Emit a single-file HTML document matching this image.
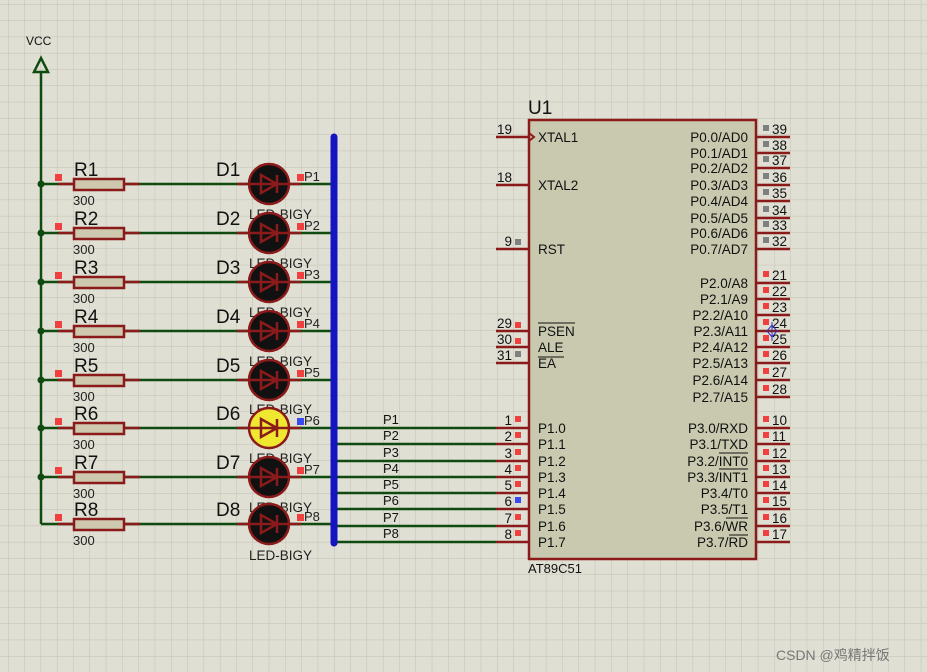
<!DOCTYPE html>
<html><head><meta charset="utf-8"><style>
html,body{margin:0;padding:0;background:#dfdfd3;}
svg{display:block;font-family:"Liberation Sans",Arial,sans-serif;}
</style></head><body>
<svg width="927" height="672" viewBox="0 0 927 672" xmlns="http://www.w3.org/2000/svg">
<defs>
<pattern id="g" width="16.3" height="16.3" patternUnits="userSpaceOnUse" x="8" y="4">
<path d="M0 0H16.3M0 0V16.3" stroke="#c2c2b3" stroke-width="1" fill="none"/>
</pattern>
</defs>
<rect width="927" height="672" fill="#dfdfd3"/>
<rect width="927" height="672" fill="url(#g)"/>

<!-- VCC -->
<text x="26" y="45" font-size="12" fill="#111">VCC</text>
<path d="M41 58 L34 72 H48 Z" fill="none" stroke="#0f4a0f" stroke-width="2.5"/>
<line x1="41" y1="72" x2="41" y2="524" stroke="#0f4a0f" stroke-width="2.5"/>

<g stroke-width="2.5">
<g stroke="#0f4a0f">
<line x1="41" y1="184" x2="334" y2="184"/><line x1="41" y1="233" x2="334" y2="233"/>
<line x1="41" y1="282" x2="334" y2="282"/><line x1="41" y1="331" x2="334" y2="331"/>
<line x1="41" y1="380" x2="334" y2="380"/><line x1="41" y1="428" x2="334" y2="428"/>
<line x1="41" y1="477" x2="334" y2="477"/><line x1="41" y1="524" x2="334" y2="524"/>
</g>
<g stroke="#8b1a1a">
<path d="M58 184H140M237 184H301M58 233H140M237 233H301M58 282H140M237 282H301M58 331H140M237 331H301M58 380H140M237 380H301M58 428H140M237 428H301M58 477H140M237 477H301M58 524H140M237 524H301"/>
</g>
</g>
<g fill="#0f4a0f">
<circle cx="41" cy="184" r="3.5"/><circle cx="41" cy="233" r="3.5"/><circle cx="41" cy="282" r="3.5"/><circle cx="41" cy="331" r="3.5"/><circle cx="41" cy="380" r="3.5"/><circle cx="41" cy="428" r="3.5"/><circle cx="41" cy="477" r="3.5"/>
</g>
<g fill="#cdc8ae" stroke="#8b1a1a" stroke-width="2.5">
<rect x="74" y="179" width="50" height="11"/><rect x="74" y="228" width="50" height="11"/>
<rect x="74" y="277" width="50" height="11"/><rect x="74" y="326" width="50" height="11"/>
<rect x="74" y="375" width="50" height="11"/><rect x="74" y="423" width="50" height="11"/>
<rect x="74" y="472" width="50" height="11"/><rect x="74" y="519" width="50" height="11"/>
</g>
<g fill="#f04040">
<rect x="55" y="174" width="7" height="7"/><rect x="55" y="223" width="7" height="7"/><rect x="55" y="272" width="7" height="7"/><rect x="55" y="321" width="7" height="7"/><rect x="55" y="370" width="7" height="7"/><rect x="55" y="418" width="7" height="7"/><rect x="55" y="467" width="7" height="7"/><rect x="55" y="514" width="7" height="7"/>
<rect x="297" y="174" width="7" height="7"/><rect x="297" y="223" width="7" height="7"/><rect x="297" y="272" width="7" height="7"/><rect x="297" y="321" width="7" height="7"/><rect x="297" y="370" width="7" height="7"/><rect x="297" y="467" width="7" height="7"/><rect x="297" y="514" width="7" height="7"/>
</g>
<rect x="297" y="418" width="7" height="7" fill="#3a4af0"/>
<g font-size="19" fill="#111">
<text x="74" y="176">R1</text><text x="74" y="225">R2</text><text x="74" y="274">R3</text><text x="74" y="323">R4</text><text x="74" y="372">R5</text><text x="74" y="420">R6</text><text x="74" y="469">R7</text><text x="74" y="516">R8</text>
<text x="216" y="176">D1</text><text x="216" y="225">D2</text><text x="216" y="274">D3</text><text x="216" y="323">D4</text><text x="216" y="372">D5</text><text x="216" y="420">D6</text><text x="216" y="469">D7</text><text x="216" y="516">D8</text>
</g>
<g font-size="13" fill="#222">
<text x="73" y="205">300</text><text x="73" y="254">300</text><text x="73" y="303">300</text><text x="73" y="352">300</text><text x="73" y="401">300</text><text x="73" y="449">300</text><text x="73" y="498">300</text><text x="73" y="545">300</text>
<text x="249" y="219" font-size="13.5">LED-BIGY</text><text x="249" y="268" font-size="13.5">LED-BIGY</text><text x="249" y="317" font-size="13.5">LED-BIGY</text><text x="249" y="366" font-size="13.5">LED-BIGY</text><text x="249" y="414" font-size="13.5">LED-BIGY</text><text x="249" y="463" font-size="13.5">LED-BIGY</text><text x="249" y="512" font-size="13.5">LED-BIGY</text><text x="249" y="560" font-size="13.5">LED-BIGY</text>
<text x="304" y="181">P1</text><text x="304" y="230">P2</text><text x="304" y="279">P3</text><text x="304" y="328">P4</text><text x="304" y="377">P5</text><text x="304" y="425">P6</text><text x="304" y="474">P7</text><text x="304" y="521">P8</text>
</g>
<g stroke="#8b1a1a" stroke-width="2.5">
<circle cx="269" cy="184" r="20" fill="#111"/><circle cx="269" cy="233" r="20" fill="#111"/><circle cx="269" cy="282" r="20" fill="#111"/><circle cx="269" cy="331" r="20" fill="#111"/><circle cx="269" cy="380" r="20" fill="#111"/><circle cx="269" cy="428" r="20" fill="#f0e830"/><circle cx="269" cy="477" r="20" fill="#111"/><circle cx="269" cy="524" r="20" fill="#111"/>
</g>
<g stroke="#8b1a1a" stroke-width="2.5" fill="none">
<path d="M249 184H289M261 175V193L277 184ZM277 175V193"/>
<path d="M249 233H289M261 224V242L277 233ZM277 224V242"/>
<path d="M249 282H289M261 273V291L277 282ZM277 273V291"/>
<path d="M249 331H289M261 322V340L277 331ZM277 322V340"/>
<path d="M249 380H289M261 371V389L277 380ZM277 371V389"/>
<path d="M249 428H289M261 419V437L277 428ZM277 419V437"/>
<path d="M249 477H289M261 468V486L277 477ZM277 468V486"/>
<path d="M249 524H289M261 515V533L277 524ZM277 515V533"/>
</g>

<g stroke="#0f4a0f" stroke-width="2.5">
<path d="M334 428H496M334 444H496M334 461H496M334 477H496M334 493H496M334 509H496M334 526H496M334 542H496"/>
</g>
<line x1="334" y1="137" x2="334" y2="543" stroke="#1414c0" stroke-width="7" stroke-linecap="round"/>
<g font-size="13" fill="#111">
<text x="383" y="424">P1</text><text x="383" y="440">P2</text><text x="383" y="457">P3</text><text x="383" y="473">P4</text><text x="383" y="489">P5</text><text x="383" y="505">P6</text><text x="383" y="522">P7</text><text x="383" y="538">P8</text>
</g>

<g stroke="#8b1a1a" stroke-width="2.5">
<path d="M496 137H529M496 185H529M496 249H529M496 331H529M496 347H529M496 363H529M496 428H529M496 444H529M496 461H529M496 477H529M496 493H529M496 509H529M496 526H529M496 542H529"/>
<path d="M756 137H790M756 153H790M756 168H790M756 185H790M756 201H790M756 218H790M756 233H790M756 249H790M756 283H790M756 299H790M756 315H790M756 331H790M756 347H790M756 363H790M756 380H790M756 397H790M756 428H790M756 444H790M756 461H790M756 477H790M756 493H790M756 509H790M756 526H790M756 542H790"/>
</g>
<rect x="529" y="120" width="227" height="439" fill="#c9c9b0" stroke="#8b1a1a" stroke-width="2.5"/>
<path d="M529 133L534 137L529 141" fill="none" stroke="#8b1a1a" stroke-width="2"/>
<text x="528" y="114" font-size="19" fill="#111">U1</text>
<text x="528" y="573" font-size="13" fill="#111">AT89C51</text>
<g font-size="13.5" fill="#111">
<text x="538" y="142">XTAL1</text><text x="538" y="190">XTAL2</text><text x="538" y="254">RST</text>
<text x="538" y="336">PSEN</text><text x="538" y="352">ALE</text><text x="538" y="368">EA</text>
<text x="538" y="433">P1.0</text><text x="538" y="449">P1.1</text><text x="538" y="466">P1.2</text><text x="538" y="482">P1.3</text><text x="538" y="498">P1.4</text><text x="538" y="514">P1.5</text><text x="538" y="531">P1.6</text><text x="538" y="547">P1.7</text>
</g>
<path d="M538 323H575M538 357H564" stroke="#111" stroke-width="1"/>
<g font-size="13.5" fill="#111" text-anchor="end">
<text x="748" y="142">P0.0/AD0</text><text x="748" y="158">P0.1/AD1</text><text x="748" y="173">P0.2/AD2</text><text x="748" y="190">P0.3/AD3</text><text x="748" y="206">P0.4/AD4</text><text x="748" y="223">P0.5/AD5</text><text x="748" y="238">P0.6/AD6</text><text x="748" y="254">P0.7/AD7</text>
<text x="748" y="288">P2.0/A8</text><text x="748" y="304">P2.1/A9</text><text x="748" y="320">P2.2/A10</text><text x="748" y="336">P2.3/A11</text><text x="748" y="352">P2.4/A12</text><text x="748" y="368">P2.5/A13</text><text x="748" y="385">P2.6/A14</text><text x="748" y="402">P2.7/A15</text>
<text x="748" y="433">P3.0/RXD</text><text x="748" y="449">P3.1/TXD</text><text x="748" y="466">P3.2/INT0</text><text x="748" y="482">P3.3/INT1</text><text x="748" y="498">P3.4/T0</text><text x="748" y="514">P3.5/T1</text><text x="748" y="531">P3.6/WR</text><text x="748" y="547">P3.7/RD</text>
</g>
<path d="M719 453H748M719 469H748M726 518H748M729 535H748" stroke="#111" stroke-width="1"/>
<g font-size="13.5" fill="#111" text-anchor="end">
<text x="512" y="134">19</text><text x="512" y="182">18</text><text x="512" y="246">9</text><text x="512" y="328">29</text><text x="512" y="344">30</text><text x="512" y="360">31</text>
<text x="512" y="425">1</text><text x="512" y="441">2</text><text x="512" y="458">3</text><text x="512" y="474">4</text><text x="512" y="490">5</text><text x="512" y="506">6</text><text x="512" y="523">7</text><text x="512" y="539">8</text>
</g>
<g font-size="13.5" fill="#111">
<text x="772" y="134">39</text><text x="772" y="150">38</text><text x="772" y="165">37</text><text x="772" y="182">36</text><text x="772" y="198">35</text><text x="772" y="215">34</text><text x="772" y="230">33</text><text x="772" y="246">32</text>
<text x="772" y="280">21</text><text x="772" y="296">22</text><text x="772" y="312">23</text><text x="772" y="328">24</text><text x="772" y="344">25</text><text x="772" y="360">26</text><text x="772" y="377">27</text><text x="772" y="394">28</text>
<text x="772" y="425">10</text><text x="772" y="441">11</text><text x="772" y="458">12</text><text x="772" y="474">13</text><text x="772" y="490">14</text><text x="772" y="506">15</text><text x="772" y="523">16</text><text x="772" y="539">17</text>
</g>
<g fill="#808080">
<rect x="763" y="125" width="6" height="6"/><rect x="763" y="141" width="6" height="6"/><rect x="763" y="156" width="6" height="6"/><rect x="763" y="173" width="6" height="6"/><rect x="763" y="189" width="6" height="6"/><rect x="763" y="206" width="6" height="6"/><rect x="763" y="221" width="6" height="6"/><rect x="763" y="237" width="6" height="6"/>
<rect x="515" y="239" width="6" height="6"/><rect x="515" y="351" width="6" height="6"/>
</g>
<g fill="#f04040">
<rect x="763" y="271" width="6" height="6"/><rect x="763" y="287" width="6" height="6"/><rect x="763" y="303" width="6" height="6"/><rect x="763" y="319" width="6" height="6"/><rect x="763" y="335" width="6" height="6"/><rect x="763" y="351" width="6" height="6"/><rect x="763" y="368" width="6" height="6"/><rect x="763" y="385" width="6" height="6"/>
<rect x="763" y="416" width="6" height="6"/><rect x="763" y="432" width="6" height="6"/><rect x="763" y="449" width="6" height="6"/><rect x="763" y="465" width="6" height="6"/><rect x="763" y="481" width="6" height="6"/><rect x="763" y="497" width="6" height="6"/><rect x="763" y="514" width="6" height="6"/><rect x="763" y="530" width="6" height="6"/>
<rect x="515" y="322" width="6" height="6"/><rect x="515" y="338" width="6" height="6"/>
<rect x="515" y="416" width="6" height="6"/><rect x="515" y="432" width="6" height="6"/><rect x="515" y="449" width="6" height="6"/><rect x="515" y="465" width="6" height="6"/><rect x="515" y="481" width="6" height="6"/><rect x="515" y="514" width="6" height="6"/><rect x="515" y="530" width="6" height="6"/>
</g>
<rect x="515" y="497" width="6" height="6" fill="#3a4af0"/>
<path d="M767 331 L772 325 L777 331 L772 337 Z M772 322V341" fill="none" stroke="#3030c0" stroke-width="1"/>

<text x="776" y="660" font-size="14" fill="#777" font-family="Liberation Sans, Noto Sans CJK SC, sans-serif">CSDN @鸡精拌饭</text>
</svg>
</body></html>
